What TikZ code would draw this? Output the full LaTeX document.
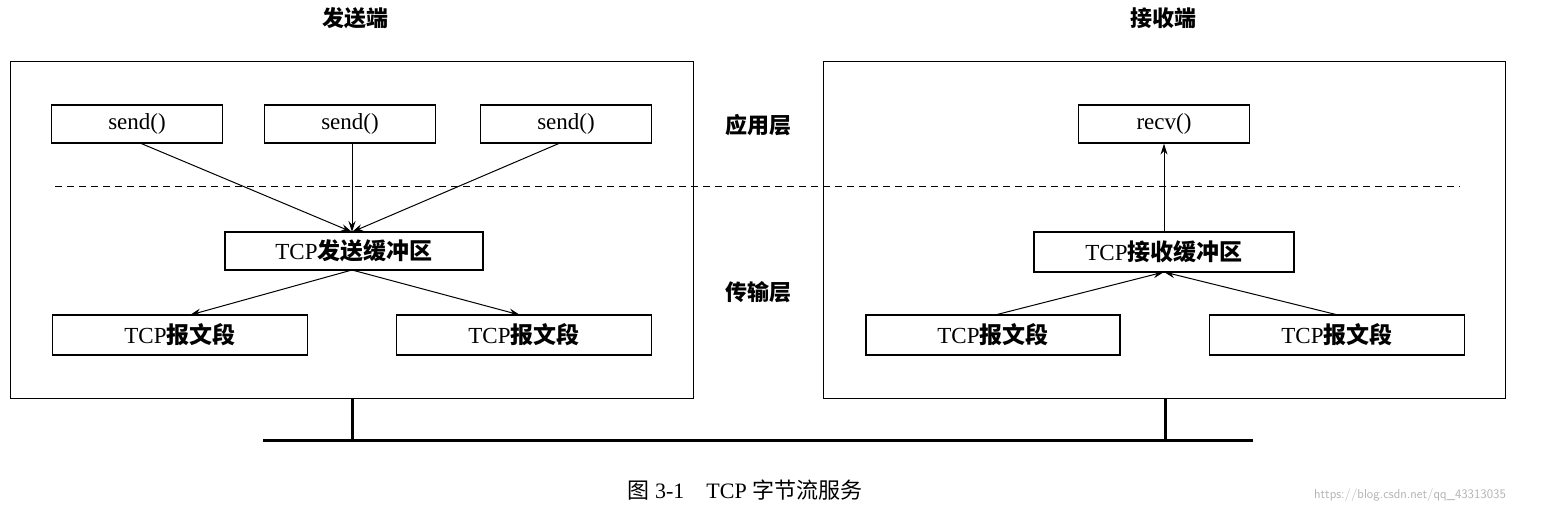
\documentclass[tikz,border=0pt]{standalone}
\usepackage{fontspec}
\setmainfont{Liberation Serif}
\newfontfamily\cjk{Noto Sans CJK SC}
\usetikzlibrary{arrows.meta}
\begin{document}
\begin{tikzpicture}[x=1pt,y=-1pt,
  bx/.style={draw,line width=1.3pt,inner sep=0pt},
  ar/.style={-{Stealth[length=11pt,width=7pt]},line width=1pt},
  lab/.style={font=\fontsize{22}{26}\selectfont\bfseries\cjk},
  txt/.style={font=\fontsize{23}{26}\selectfont}]
\useasboundingbox (0,0) rectangle (1544,513);
\node[lab] (t1) at (355,18) {发送端};
\node[lab] (t2) at (1163,18) {接收端};
\draw[line width=1pt] (10,62) rectangle (693,398);
\draw[line width=1pt] (823,62) rectangle (1505,398);
\draw[dashed,line width=1pt,dash pattern=on 7pt off 5pt] (55,187) -- (1460,187);
\node[lab] (a) at (758,125) {应用层};
\node[lab] (b) at (758,292) {传输层};
\foreach \n/\x in {s1/137,s2/350,s3/566}{
 \node[bx,txt,minimum width=171pt,minimum height=38pt] (\n) at (\x,124) {send()};}
\node[bx,txt,minimum width=258pt,minimum height=38pt] (buf) at (354,251) {TCP{\cjk\bfseries 发送缓冲区}};
\node[bx,txt,minimum width=255pt,minimum height=40pt] (p1) at (180,335) {TCP{\cjk\bfseries 报文段}};
\node[bx,txt,minimum width=255pt,minimum height=40pt] (p2) at (524,335) {TCP{\cjk\bfseries 报文段}};
\node[bx,txt,minimum width=171pt,minimum height=38pt] (rv) at (1164,124) {recv()};
\node[bx,txt,minimum width=260pt,minimum height=40pt] (rb) at (1164,252) {TCP{\cjk\bfseries 接收缓冲区}};
\node[bx,txt,minimum width=254pt,minimum height=40pt] (q1) at (993,335) {TCP{\cjk\bfseries 报文段}};
\node[bx,txt,minimum width=255pt,minimum height=40pt] (q2) at (1337,335) {TCP{\cjk\bfseries 报文段}};
\coordinate (bt) at (352,232);
\coordinate (bb) at (352,270);
\draw[ar] (140,143) -- (bt);
\draw[ar] (352,143) -- (bt);
\draw[ar] (560,143) -- (bt);
\draw[ar] (bb) -- (190,315);
\draw[ar] (bb) -- (520,315);
\draw[ar] (rb.north) -- (rv.south);
\coordinate (rt) at (1164,272);
\draw[ar] (995,315) -- (rt);
\draw[ar] (1338,315) -- (rt);
\draw[line width=3pt] (352,398) -- (352,440);
\draw[line width=3pt] (1165,398) -- (1165,440);
\draw[line width=3pt] (263,440) -- (1253,440);
\node[font=\fontsize{22}{26}\selectfont] (cap) at (745,490) {{\cjk 图} 3-1\quad TCP {\cjk 字节流服务}};
\node[font=\fontsize{13}{15}\selectfont\sffamily,text=gray!60] (wm) at (1410,495) {https://blog.csdn.net/qq\_43313035};
\end{tikzpicture}
\end{document}
